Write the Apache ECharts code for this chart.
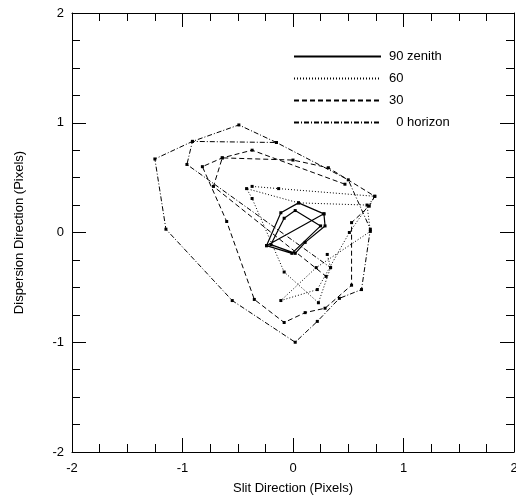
<!DOCTYPE html>
<html>
<head>
<meta charset="utf-8">
<script src="https://cdn.jsdelivr.net/npm/echarts@6/dist/echarts.min.js"></script>
<style>
  html, body { margin: 0; padding: 0; background: #fff; }
  #chart { width: 516px; height: 500px; }
</style>
</head>
<body>
<div id="chart"></div>
<script>
// series names (legend)
var seriesNames = ['90 zenith', '60', '30', '  0 horizon'];

// offsets [slit, dispersion] in pixels
var zenith = [[-0.24, -0.12], [-0.11, 0.18], [0.05, 0.27], [0.28, 0.17], [0.29, 0.06], [0.11, -0.09],
    [0.02, -0.19], [-0.20, -0.11], [-0.08, 0.13], [0.02, 0.20], [0.25, 0.06], [-0.01, -0.19],
    [-0.24, -0.12], [0.28, 0.17]];
var elev60 = [[-0.37, 0.42], [-0.13, 0.40], [0.74, 0.33], [0.51, 0.00], [0.22, -0.52], [-0.11, -0.62],
    [0.21, -0.32], [0.70, 0.01], [0.67, 0.25], [0.05, 0.27], [-0.42, 0.40], [-0.37, 0.31],
    [-0.08, -0.36], [0.23, -0.64], [0.34, -0.32], [0.31, -0.20]];
var elev30 = [[0.47, 0.44], [-0.37, 0.75], [-0.64, 0.68], [-0.82, 0.60], [-0.60, 0.10], [-0.35, -0.61],
    [-0.08, -0.82], [0.11, -0.73], [0.29, -0.69], [0.53, -0.48], [0.53, 0.09], [0.69, 0.24],
    [0.74, 0.33], [0.32, 0.59], [0.00, 0.66], [-0.64, 0.68], [-0.72, 0.42], [0.30, -0.40]];
var horizon = [[-0.15, 0.82], [-0.49, 0.98], [-0.91, 0.83], [-1.25, 0.67], [-1.15, 0.03], [-0.55, -0.62],
    [0.02, -1.00], [0.22, -0.81], [0.42, -0.60], [0.62, -0.52], [0.70, 0.03], [0.50, 0.48],
    [-0.15, 0.82], [-0.91, 0.83], [-0.96, 0.62], [0.34, -0.32]];

// axis ticks
var axisMin = -2, axisMax = 2, axisStep = 1;

var allData = [zenith, elev60, elev30, horizon];
var dashes = ['solid', [1, 2], [5, 3], [5, 2, 1, 2]];
var widths = [1.2, 1, 1, 1];

var font = 'Liberation Sans';

function makeAxis(type, pos, showLabel, name) {
    return {
        type: 'value',
        position: pos,
        min: axisMin,
        max: axisMax,
        interval: axisStep,
        name: name,
        nameLocation: 'middle',
        nameGap: type === 'x' ? 30 : 46,
        nameTextStyle: { color: '#000', fontFamily: font, fontSize: 13 },
        axisLine: { show: true, onZero: false, lineStyle: { color: '#000', width: 1 } },
        axisTick: { show: true, inside: true, length: 14, lineStyle: { color: '#000' } },
        minorTick: { show: true, splitNumber: 4, length: 8, lineStyle: { color: '#000' } },
        axisLabel: { show: showLabel, color: '#000', fontFamily: font, fontSize: 13, margin: type === 'x' ? 10 : 8 },
        splitLine: { show: false }
    };
}

var box = document.getElementById('chart');
var myChart = echarts.init(box);

var series = allData.map(function (d, i) {
    return {
        name: seriesNames[i],
        type: 'line',
        data: d,
        symbol: 'rect',
        symbolSize: 3,
        showSymbol: true,
        animation: false,
        itemStyle: { color: '#000' },
        lineStyle: { color: '#000', width: widths[i], type: dashes[i] }
    };
});

var option = {
    backgroundColor: '#fff',
    animation: false,
    grid: { left: 72, right: 2, top: 13, bottom: 48, containLabel: false, outerBoundsMode: 'none' },
    legend: {
        orient: 'vertical',
        left: 293,
        top: 50,
        padding: 0,
        itemWidth: 87,
        itemHeight: 10,
        itemGap: 9,
        itemStyle: { opacity: 0 },
        textStyle: { color: '#000', fontFamily: font, fontSize: 13, padding: [0, 0, 0, 3] },
        data: seriesNames
    },
    xAxis: [
        makeAxis('x', 'bottom', true, 'Slit Direction (Pixels)'),
        makeAxis('x', 'top', false, '')
    ],
    yAxis: [
        makeAxis('y', 'left', true, 'Dispersion Direction (Pixels)'),
        makeAxis('y', 'right', false, '')
    ],
    series: series
};
myChart.setOption(option);
</script>
</body>
</html>
